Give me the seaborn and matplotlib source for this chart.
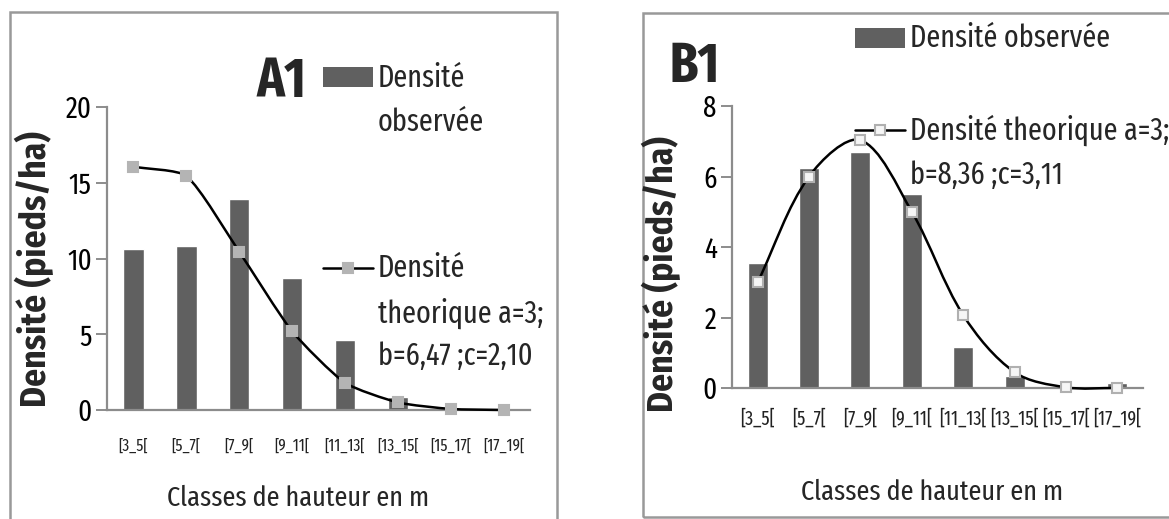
import numpy as np
import pandas as pd
import matplotlib
matplotlib.use("Agg")
import matplotlib.pyplot as plt
import seaborn as sns
from matplotlib.path import Path
from matplotlib.patches import PathPatch, Rectangle
from matplotlib.lines import Line2D

# ---------------- data ----------------
classes = ["[3_5[", "[5_7[", "[7_9[", "[9_11[", "[11_13[", "[13_15[", "[15_17[", "[17_19["]
a1_observed = [10.6, 10.8, 13.9, 8.7, 4.6, 0.85, 0.0, 0.0]
a1_theoretical = [16.05, 15.45, 10.45, 5.2, 1.8, 0.5, 0.07, 0.0]
b1_observed = [3.55, 6.25, 6.7, 5.5, 1.15, 0.35, 0.0, 0.15]
b1_theoretical = [3.0, 6.0, 7.03, 5.0, 2.07, 0.45, 0.02, 0.0]
a1_title = "A1"
b1_title = "B1"
a1_yticks = [0, 5, 10, 15, 20]
b1_yticks = [0, 2, 4, 6, 8]
legend_obs = "Densité observée"
a1_legend_obs = ["Densité", "observée"]
a1_legend_th = ["Densité", "theorique a=3;", "b=6,47 ;c=2,10"]
b1_legend_th = ["Densité theorique a=3;", "b=8,36 ;c=3,11"]
xlabel = "Classes de hauteur en m"
ylabel = "Densité (pieds/ha)"

sns.set_theme(style="white")
FONT = ["Fira Sans Extra Condensed", "Fira Sans Condensed", "DejaVu Sans"]
YFONT = ["Fira Sans Condensed", "Fira Sans Extra Condensed", "DejaVu Sans"]
plt.rcParams["font.family"] = FONT

W, H = 1169, 519
fig = plt.figure(figsize=(W / 100, H / 100), dpi=100)
fig.patch.set_facecolor("white")

BAR = "#606060"
AX = "#8c8c8c"
LEG = 22


def fx(px):
    return px / W


def fy(py):
    return 1 - py / H


def smooth_path(ax, xs, ys, k):
    """Excel-like smoothed line through the data points (Bezier segments)."""
    data = np.column_stack([np.asarray(xs, float), np.asarray(ys, float)])
    pix = ax.transData.transform(data)
    inv = ax.transData.inverted()
    n = len(pix)
    verts = [data[0]]
    codes = [Path.MOVETO]
    for i in range(n - 1):
        p0 = pix[i - 1] if i > 0 else pix[i]
        p1 = pix[i]
        p2 = pix[i + 1]
        p3 = pix[i + 2] if i + 2 < n else pix[i + 1]
        d01 = np.hypot(*(p1 - p0))
        d12 = np.hypot(*(p2 - p1))
        d23 = np.hypot(*(p3 - p2))
        t1 = d12 / (d01 + d12) if d01 + d12 > 0 else 0.5
        t2 = d12 / (d12 + d23) if d12 + d23 > 0 else 0.5
        c1 = p1 + (p2 - p0) * t1 / 3.0 * k
        c2 = p2 - (p3 - p1) * t2 / 3.0 * k
        verts += [inv.transform(c1), inv.transform(c2), data[i + 1]]
        codes += [Path.CURVE4] * 3
    return Path(verts, codes)


def make_panel(rect_px, ylim, yticks, obs, th, mfc, mec, xt_size, xt_pad, k):
    l, r, top, bot = rect_px
    ax = fig.add_axes([fx(l), fy(bot), fx(r - l), fy(top) - fy(bot)])
    df = pd.DataFrame({"classe": classes, "obs": obs})
    sns.barplot(data=df, x="classe", y="obs", color=BAR, width=0.39,
                saturation=1, ax=ax, zorder=2)
    ax.set_xlim(-0.5, len(classes) - 0.5)
    ax.set_ylim(*ylim)
    xs = np.arange(len(classes))
    ax.add_patch(PathPatch(smooth_path(ax, xs, th, k), facecolor="none",
                           edgecolor="black", lw=1.8, zorder=3, clip_on=False))
    ax.plot(xs, th, ls="none", marker="s", ms=6.5, mfc=mfc, mec=mec,
            mew=1.5, zorder=4, clip_on=False)
    ax.set_yticks(yticks)
    ax.set_yticklabels([str(t) for t in yticks])
    ax.set_xlabel("")
    ax.set_ylabel("")
    for s in ["top", "right"]:
        ax.spines[s].set_visible(False)
    for s in ["left", "bottom"]:
        ax.spines[s].set_color(AX)
        ax.spines[s].set_linewidth(1.6)
    ax.tick_params(axis="y", left=True, length=8, width=1.4, color=AX,
                   labelsize=21, pad=3, labelcolor="black")
    ax.tick_params(axis="x", bottom=False, labelsize=xt_size, pad=xt_pad,
                   labelcolor="#222222")
    ax.set_facecolor("none")
    return ax


# panel borders
fig.add_artist(Rectangle((fx(10), fy(530)), fx(557 - 10), fy(12) - fy(530),
                         transform=fig.transFigure, fill=False,
                         edgecolor="#999999", lw=1.8))
fig.add_artist(Rectangle((fx(643), fy(517)), fx(1180 - 643), fy(13) - fy(517),
                         transform=fig.transFigure, fill=False,
                         edgecolor="#999999", lw=1.8))

axA = make_panel((107, 530, 107, 410), (0, 20), a1_yticks, a1_observed,
                 a1_theoretical, "#b4b4b4", "#b4b4b4", 12, 14, 0.6)
axB = make_panel((732, 1143, 106, 388), (0, 8), b1_yticks, b1_observed,
                 b1_theoretical, "#f6f6f6", "#b0b0b0", 14, 9, 1.0)

# axis labels
fig.text(fx(298), fy(498), xlabel, ha="center", va="center", fontsize=20.5)
fig.text(fx(932), fy(492), xlabel, ha="center", va="center", fontsize=20.5)
fig.text(fx(34), fy(269), ylabel, rotation=90, ha="center", va="center",
         fontsize=25.5, fontweight="bold", family=YFONT)
fig.text(fx(661), fy(274), ylabel, rotation=90, ha="center", va="center",
         fontsize=25.5, fontweight="bold", family=YFONT)

# titles
fig.text(fx(281), fy(82), a1_title, ha="center", va="center", fontsize=40,
         fontweight="bold")
fig.text(fx(695), fy(67), b1_title, ha="center", va="center", fontsize=40,
         fontweight="bold")


def legend_patch(x0, x1, yc, h):
    fig.add_artist(Rectangle((fx(x0), fy(yc + h / 2)), fx(x1 - x0), h / H,
                             transform=fig.transFigure, facecolor=BAR,
                             edgecolor="none"))


def legend_line(x0, x1, yc, mfc, mec):
    fig.add_artist(Line2D([fx(x0), fx(x1)], [fy(yc), fy(yc)],
                          transform=fig.transFigure, color="black", lw=1.8))
    fig.add_artist(Line2D([fx((x0 + x1) / 2)], [fy(yc)], transform=fig.transFigure,
                          ls="none", marker="s", ms=6.5, mfc=mfc, mec=mec, mew=1.5))


# A1 legend
legend_patch(323, 373, 77, 20)
for txt, yy in zip(a1_legend_obs, [78, 122]):
    fig.text(fx(378), fy(yy), txt, ha="left", va="center", fontsize=LEG)
legend_line(323, 373, 268, "#b4b4b4", "#b4b4b4")
for txt, yy in zip(a1_legend_th, [268, 313, 356]):
    fig.text(fx(378), fy(yy), txt, ha="left", va="center", fontsize=LEG)

# B1 legend
legend_patch(855, 905, 38, 20)
fig.text(fx(910), fy(38), legend_obs, ha="left", va="center", fontsize=LEG)
legend_line(855, 905, 130, "#f6f6f6", "#b0b0b0")
for txt, yy in zip(b1_legend_th, [130, 175]):
    fig.text(fx(910), fy(yy), txt, ha="left", va="center", fontsize=LEG)

fig.savefig("out.png", dpi=100, facecolor="white")
